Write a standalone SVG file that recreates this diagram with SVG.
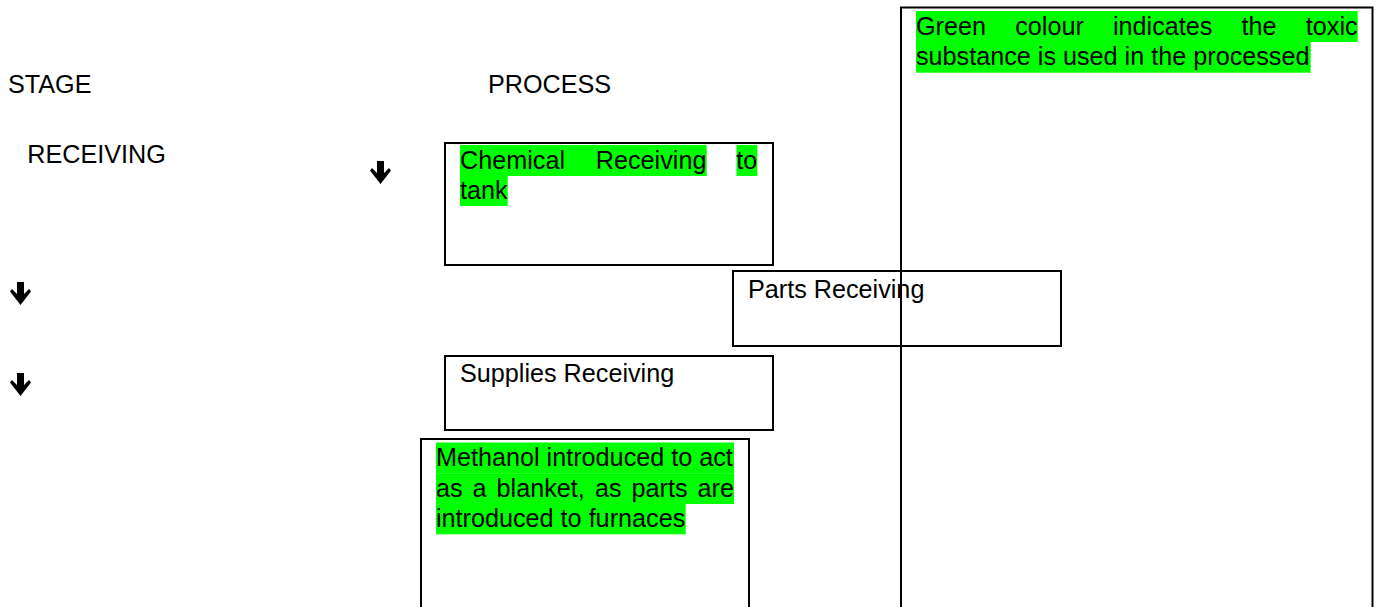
<svg xmlns="http://www.w3.org/2000/svg" width="1378" height="607" viewBox="0 0 1378 607">
<style>
  text { font-family: "Liberation Sans", Arial, sans-serif; font-size: 25.2px; fill: #000; }
  .box { fill: none; stroke: #000; stroke-width: 2; }
  .hl { fill: #00ff00; stroke: none; }
  .arrow { fill: #000; }
</style>
<defs>
  <polygon id="darrow" class="arrow" points="7,0 14,0 14,12 19,7 21,9.5 10.5,23 0,9.5 2,7 7,12"/>
</defs>
<rect width="1378" height="607" fill="#fff"/>

<g id="headers">
  <text x="8" y="93">STAGE</text>
  <text x="488" y="93">PROCESS</text>
  <text x="27.3" y="163">RECEIVING</text>
</g>

<g id="node-chemical">
  <rect class="hl" x="460" y="145" width="246.7" height="31"/>
  <rect class="hl" x="736.5" y="145" width="20.8" height="31"/>
  <rect class="hl" x="460" y="176" width="47.7" height="30"/>
  <rect class="box" x="445" y="143" width="328" height="122"/>
  <text y="168.5"><tspan x="460">Chemical</tspan> <tspan x="595.8">Receiving</tspan> <tspan x="736.3">to</tspan></text>
  <text x="460" y="199">tank</text>
</g>

<g id="node-parts">
  <rect class="box" x="733" y="271" width="328" height="75"/>
  <text x="748" y="297.5">Parts Receiving</text>
</g>

<g id="node-supplies">
  <rect class="box" x="445" y="356" width="328" height="74"/>
  <text x="460" y="382">Supplies Receiving</text>
</g>

<g id="node-methanol">
  <rect class="hl" x="436" y="442.5" width="298" height="31"/>
  <rect class="hl" x="436" y="473.3" width="298" height="30.7"/>
  <rect class="hl" x="436" y="504" width="249.7" height="30.3"/>
  <rect class="box" x="421" y="439" width="328" height="220"/>
  <text x="436" y="466">Methanol introduced to act</text>
  <text y="496.5"><tspan x="436">as</tspan> <tspan x="472.6">a</tspan> <tspan x="496.6">blanket,</tspan> <tspan x="594.9">as</tspan> <tspan x="631.5">parts</tspan> <tspan x="697.5">are</tspan></text>
  <text x="436" y="527">introduced to furnaces</text>
</g>

<g id="node-legend">
  <rect class="hl" x="916" y="11" width="441.7" height="31"/>
  <rect class="hl" x="916" y="42" width="394.7" height="30.7"/>
  <rect class="box" x="901" y="7.5" width="471.5" height="700"/>
  <text y="34.5"><tspan x="916">Green</tspan> <tspan x="1015.2">colour</tspan> <tspan x="1113">indicates</tspan> <tspan x="1241.6">the</tspan> <tspan x="1305.8">toxic</tspan></text>
  <text x="916" y="65">substance is used in the processed</text>
</g>

<g id="connectors">
  <use href="#darrow" x="370" y="161"/>
  <use href="#darrow" x="10" y="282"/>
  <use href="#darrow" x="10" y="373"/>
</g>
</svg>
